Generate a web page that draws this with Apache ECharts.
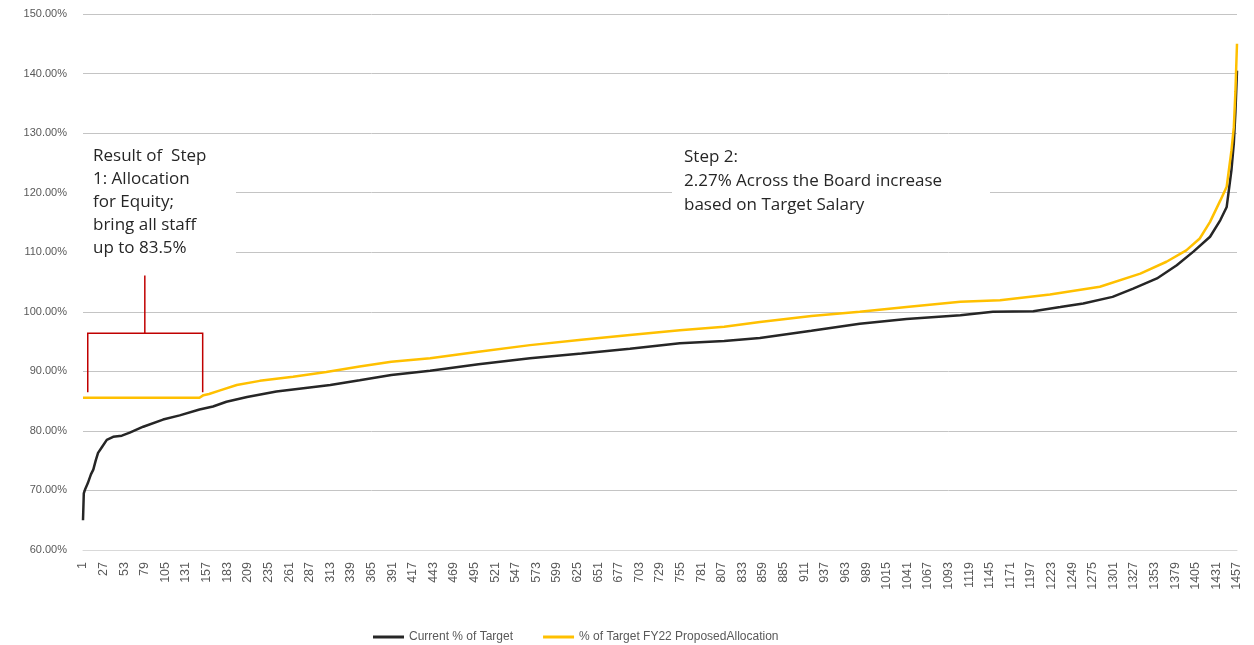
<!DOCTYPE html>
<html>
<head>
<meta charset="utf-8">
<script src="https://cdn.jsdelivr.net/npm/echarts@6/dist/echarts.min.js"></script>
<style>
html, body { margin: 0; padding: 0; background: #fff; }
#main { width: 1254px; height: 645px; }
</style>
</head>
<body>
<div id="main"></div>
<script>
// staff sorted by current % of target (1..1457)
var staffCount = 1457;

// Current % of Target at sample positions
var currentPos = [1, 2, 4, 7, 11, 14, 17, 20, 25, 31, 39, 50, 60, 77, 102, 123, 148, 165, 182, 208,
    245, 287, 313, 350, 390, 439, 500, 565, 630, 691, 754, 810, 855, 920, 981, 1040, 1108, 1149,
    1200, 1234, 1263, 1300, 1326, 1356, 1381, 1402, 1423, 1436, 1444, 1450, 1453, 1455, 1457];
var currentVal = [65.0, 69.5, 70.3, 71.2, 72.7, 73.5, 75.0, 76.3, 77.3, 78.5, 79.0, 79.2, 79.7, 80.7, 81.9, 82.6, 83.6, 84.1, 84.9, 85.7,
    86.6, 87.3, 87.7, 88.5, 89.4, 90.1, 91.2, 92.2, 93.0, 93.8, 94.7, 95.1, 95.6, 96.8, 98.0, 98.8, 99.4, 100.0,
    100.1, 100.8, 101.4, 102.5, 103.9, 105.6, 107.8, 110.1, 112.6, 115.4, 117.6, 123.8, 128.3, 133.5, 140.5];

// % of Target FY22 ProposedAllocation
var proposedPos = [1, 148, 153, 160, 174, 195, 224, 266, 308, 350, 390, 439, 500, 565, 630, 691, 754, 810,
    855, 920, 981, 1040, 1108, 1158, 1221, 1284, 1335, 1368, 1393, 1410, 1423, 1436, 1444, 1450, 1453, 1455, 1457];
var proposedVal = [85.55, 85.55, 86.0, 86.2, 86.8, 87.7, 88.4, 89.1, 89.9, 90.8, 91.6, 92.2, 93.3, 94.4, 95.3, 96.1, 96.9, 97.5,
    98.3, 99.3, 100.0, 100.8, 101.7, 101.95, 102.9, 104.2, 106.4, 108.4, 110.3, 112.3, 115.1, 118.7, 121.0, 127.1, 131.0, 137.0, 145.0];

var seriesNames = ['Current % of Target', '% of Target FY22 ProposedAllocation'];
var seriesColors = ['#262626', '#ffc000'];

var note1 = 'Result of  Step\n1: Allocation\nfor Equity;\nbring all staff\nup to 83.5%';
var note2 = 'Step 2:\n2.27% Across the Board increase\nbased on Target Salary';

// category labels 1..1457
var categories = [];
for (var i = 1; i <= staffCount; i++) {
    categories.push(String(i));
}

function toPairs(pos, val) {
    return pos.map(function (p, k) {
        return [p - 1, val[k]];
    });
}

var myChart = echarts.init(document.getElementById('main'));
var option = {
    animation: false,
    grid: { left: 83, right: 17, top: 14, bottom: 95 },
    legend: {
        left: 368,
        top: 626,
        itemWidth: 31,
        itemHeight: 3,
        itemGap: 30,
        icon: 'rect',
        textStyle: { color: '#595959', fontSize: 12, fontFamily: 'Liberation Sans' },
        data: seriesNames
    },
    xAxis: {
        type: 'category',
        boundaryGap: false,
        data: categories,
        axisLine: { lineStyle: { color: '#d9d9d9' } },
        axisTick: { show: false },
        axisLabel: {
            interval: 25,
            rotate: 90,
            margin: 12,
            color: '#595959',
            fontSize: 12.5,
            fontFamily: 'Liberation Sans'
        }
    },
    yAxis: {
        type: 'value',
        min: 60,
        max: 150,
        interval: 10,
        axisLine: { show: false },
        axisTick: { show: false },
        splitLine: { lineStyle: { color: '#c4c4c4' } },
        axisLabel: {
            margin: 16,
            color: '#595959',
            fontSize: 11,
            fontFamily: 'Liberation Sans',
            formatter: function (v) { return v.toFixed(2) + '%'; }
        }
    },
    series: [{
        name: seriesNames[0],
        type: 'line',
        symbol: 'none',
        color: seriesColors[0],
        lineStyle: { width: 2.5 },
        data: toPairs(currentPos, currentVal)
    }, {
        name: seriesNames[1],
        type: 'line',
        symbol: 'none',
        color: seriesColors[1],
        lineStyle: { width: 2.5 },
        data: toPairs(proposedPos, proposedVal)
    }]
};
myChart.setOption(option);

// annotations: bracket over the equity range, two notes
function px(cat, val) {
    return myChart.convertToPixel({ gridIndex: 0 }, [cat - 1, val]);
}
var bl = px(7, 86.5), tl = px(7, 96.4), tr = px(152, 96.4), br = px(152, 86.5);
var stemBottom = px(79, 96.4), stemTop = px(79, 106.1);

myChart.setOption({
    graphic: [{
        type: 'rect',
        shape: { x: 78, y: 141, width: 158, height: 126 },
        style: { fill: '#fff' }
    }, {
        type: 'text',
        left: 93,
        top: 145,
        style: { text: note1, fill: '#262626', font: '17px "Open Sans"', lineHeight: 23 }
    }, {
        type: 'rect',
        shape: { x: 672, y: 143, width: 318, height: 76 },
        style: { fill: '#fff' }
    }, {
        type: 'text',
        left: 684,
        top: 145,
        style: { text: note2, fill: '#262626', font: '17px "Open Sans"', lineHeight: 24 }
    }, {
        type: 'polyline',
        shape: { points: [bl, tl, tr, br] },
        style: { stroke: '#c00000', lineWidth: 1.5, fill: null }
    }, {
        type: 'line',
        shape: { x1: stemBottom[0], y1: stemBottom[1], x2: stemTop[0], y2: stemTop[1] },
        style: { stroke: '#c00000', lineWidth: 1.5 }
    }]
});
window.addEventListener("resize", function () {
    myChart.resize();
});
</script>
</body>
</html>
